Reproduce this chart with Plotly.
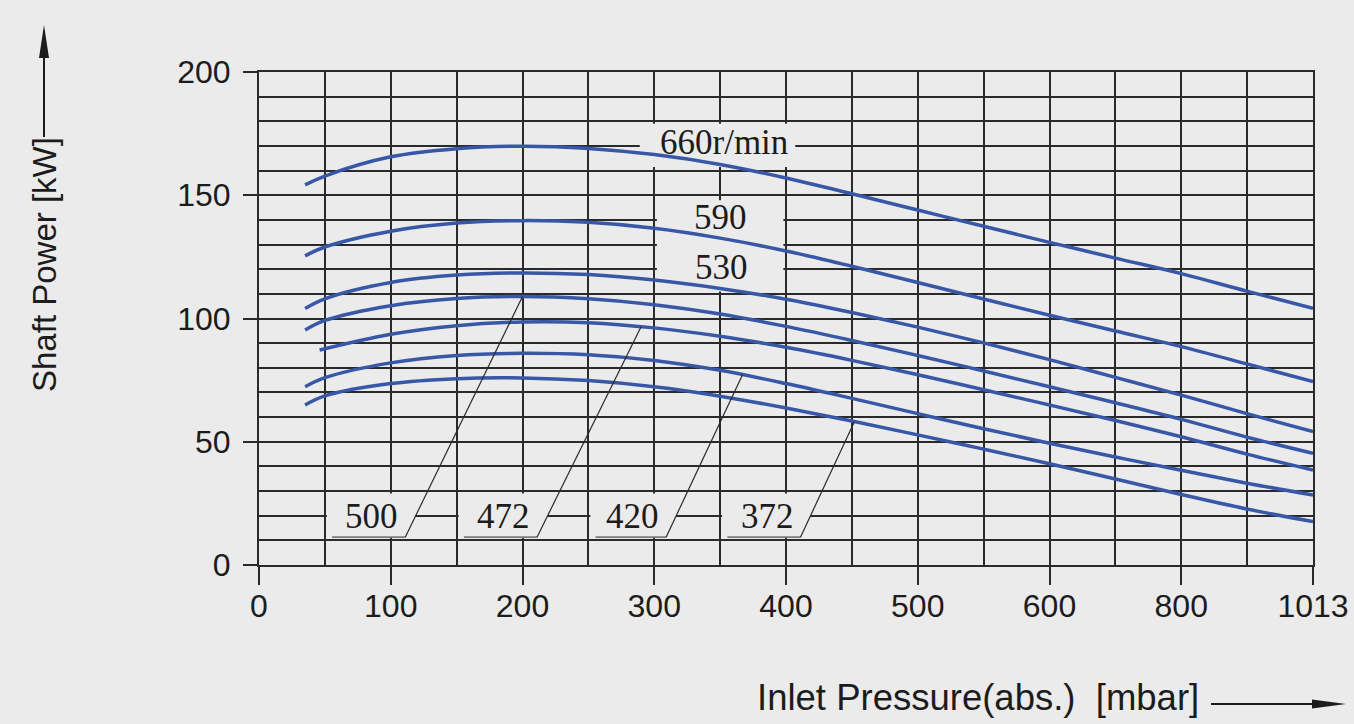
import numpy as np
import plotly.graph_objects as go

# ---- axis definitions -------------------------------------------------------
# Pressure ticks are placed at equal spacing (non-linear mbar scale)
TICK_MBAR = [0, 100, 200, 300, 400, 500, 600, 800, 1013]
TICK_TEXT = ["0", "100", "200", "300", "400", "500", "600", "800", "1013"]
POWER_TICKS = [0, 50, 100, 150, 200]

# ---- performance curves: shaft power [kW] vs inlet pressure [mbar] ----------
P_COMMON = [35, 50, 100, 150, 200, 250, 300, 350, 400, 450, 500, 550, 600, 700, 800, 906, 1013]
P_472 = [46, 100, 150, 200, 250, 300, 350, 400, 450, 500, 550, 600, 700, 800, 906, 1013]

POWER_660 = [154.2, 157.8, 165.6, 168.9, 169.9, 169.0, 166.5, 162.5, 157.0, 150.6, 144.0, 137.4, 130.9, 124.5, 118.2, 111.1, 104.1]
POWER_590 = [125.4, 129.0, 135.4, 138.7, 139.7, 139.0, 136.6, 132.6, 127.4, 121.2, 114.6, 107.9, 101.3, 94.9, 88.6, 81.6, 74.4]
POWER_530 = [104.1, 108.0, 114.6, 117.6, 118.5, 117.8, 115.6, 112.2, 107.8, 102.4, 96.5, 90.1, 83.3, 76.1, 68.9, 61.4, 54.1]
POWER_500 = [95.3, 99.2, 105.2, 108.1, 108.9, 108.0, 105.6, 101.8, 96.8, 91.1, 85.0, 78.7, 72.3, 65.8, 59.1, 51.9, 45.3]
POWER_472 = [87.2, 93.6, 97.1, 98.6, 98.3, 96.2, 92.8, 88.3, 83.0, 77.2, 71.1, 64.9, 58.6, 52.0, 45.0, 38.5]
POWER_420 = [72.3, 76.0, 82.0, 85.0, 85.9, 85.3, 83.0, 79.0, 73.6, 67.6, 61.4, 55.3, 49.4, 43.8, 38.4, 33.2, 28.4]
POWER_372 = [64.9, 68.6, 73.6, 75.6, 75.9, 74.8, 72.3, 68.5, 63.7, 58.4, 52.8, 47.0, 41.1, 34.9, 28.6, 22.7, 17.6]

CURVES = [
    ("660", P_COMMON, POWER_660),
    ("590", P_COMMON, POWER_590),
    ("530", P_COMMON, POWER_530),
    ("500", P_COMMON, POWER_500),
    ("472", P_472, POWER_472),
    ("420", P_COMMON, POWER_420),
    ("372", P_COMMON, POWER_372),
]

# speed labels with leader lines at the bottom of the chart
LEADER_SPEEDS = ["500", "472", "420", "372"]
LEADER_TIP_MBAR = [200, 290, 367, 452]     # where each leader touches its curve
LEADER_BASE_MBAR = [111, 211, 309, 411]    # foot of each leader
LABEL_BOX_LEFT_MBAR = [50, 150, 250, 350]

# ---- styling ----------------------------------------------------------------
BG = "#ebebeb"
GRID = "#2a2a2a"
BLUE = "#3857a6"
TXT = "#1c1c1c"
SANS = "Liberation Sans, Arial, sans-serif"
SERIF = "Liberation Serif, Times New Roman, serif"

W, H = 1354, 724
ML, MR, MT, MB = 259, 41, 72, 159


def to_pos(p):
    """Map pressure in mbar onto the equally spaced tick positions."""
    return np.interp(p, TICK_MBAR, np.arange(len(TICK_MBAR)))


def px_x(px):
    return (px - ML) / (W - ML - MR)


def px_y(py):
    return (H - MB - py) / (H - MT - MB)


fig = go.Figure()

for name, p, pw in CURVES:
    fig.add_trace(go.Scatter(
        x=to_pos(p), y=pw, mode="lines", name=name,
        line=dict(color=BLUE, width=3.5, shape="spline", smoothing=1.0),
        hoverinfo="skip", showlegend=False,
    ))

shapes = []
annotations = []

# label backgrounds for the upper curve labels (hide the grid behind text)
shapes.append(dict(type="rect", xref="x", yref="y", layer="between",
                   x0=to_pos(289), x1=to_pos(407), y0=161.5, y1=179.0,
                   fillcolor=BG, line=dict(width=0)))
shapes.append(dict(type="rect", xref="x", yref="y", layer="between",
                   x0=to_pos(302), x1=to_pos(398), y0=111.0, y1=148.0,
                   fillcolor=BG, line=dict(width=0)))

LABEL_FONT = dict(family=SERIF, size=35, color=TXT)
annotations += [
    dict(x=to_pos(353), y=171.6, xref="x", yref="y", text="660r/min", showarrow=False,
         font=LABEL_FONT),
    dict(x=to_pos(350), y=141.0, xref="x", yref="y", text="590", showarrow=False,
         font=LABEL_FONT),
    dict(x=to_pos(351), y=120.5, xref="x", yref="y", text="530", showarrow=False,
         font=LABEL_FONT),
]

# bottom labels with leader lines to their curves
curve_lookup = {name: (p, pw) for name, p, pw in CURVES}
Y_BASE, Y_TOP = 11.3, 29.0
for spd, tip_p, base_p, left_p in zip(LEADER_SPEEDS, LEADER_TIP_MBAR,
                                      LEADER_BASE_MBAR, LABEL_BOX_LEFT_MBAR):
    p, pw = curve_lookup[spd]
    xt, yt = float(to_pos(tip_p)), float(np.interp(tip_p, p, pw))
    xb = float(to_pos(base_p))
    xl = float(to_pos(left_p)) + 0.015
    x_at_top = xb + (Y_TOP - Y_BASE) / (yt - Y_BASE) * (xt - xb)
    shapes.append(dict(type="path", xref="x", yref="y", layer="between",
                       path=f"M {xl},{Y_BASE} L {xb},{Y_BASE} L {x_at_top},{Y_TOP} L {xl},{Y_TOP} Z",
                       fillcolor=BG, line=dict(width=0)))
    shapes.append(dict(type="line", xref="x", yref="y", layer="above",
                       x0=xl + 0.04, x1=xb, y0=Y_BASE, y1=Y_BASE,
                       line=dict(color="#7a7a7a", width=1.6)))
    shapes.append(dict(type="line", xref="x", yref="y", layer="above",
                       x0=xb, y0=Y_BASE, x1=xt, y1=yt,
                       line=dict(color="#2a2a2a", width=1.2)))
    annotations.append(dict(x=xb - 0.253, y=19.5, xref="x", yref="y", text=spd,
                            showarrow=False, font=LABEL_FONT))

# axis titles with direction arrows
annotations.append(dict(x=px_x(44), y=px_y(265), xref="paper", yref="paper",
                        text="Shaft Power [kW]", textangle=-90, showarrow=False,
                        xanchor="center", yanchor="middle",
                        font=dict(family=SANS, size=33, color=TXT)))
annotations.append(dict(x=px_x(978), y=px_y(697), xref="paper", yref="paper",
                        text="Inlet Pressure(abs.)\u00a0 [mbar]", showarrow=False,
                        xanchor="center", yanchor="middle",
                        font=dict(family=SANS, size=36.5, color=TXT)))

shapes.append(dict(type="line", xref="paper", yref="paper",
                   x0=px_x(44), x1=px_x(44), y0=px_y(137), y1=px_y(50),
                   line=dict(color=TXT, width=2)))
shapes.append(dict(type="path", xref="paper", yref="paper",
                   path=f"M {px_x(44)},{px_y(25)} L {px_x(39)},{px_y(58)} L {px_x(49)},{px_y(58)} Z",
                   fillcolor=TXT, line=dict(width=0)))
shapes.append(dict(type="line", xref="paper", yref="paper",
                   x0=px_x(1211), x1=px_x(1320), y0=px_y(704), y1=px_y(704),
                   line=dict(color=TXT, width=2)))
shapes.append(dict(type="path", xref="paper", yref="paper",
                   path=f"M {px_x(1346)},{px_y(704)} L {px_x(1312)},{px_y(699.5)} L {px_x(1312)},{px_y(708.5)} Z",
                   fillcolor=TXT, line=dict(width=0)))

TICK_FONT = dict(family=SANS, size=32, color=TXT)
fig.update_layout(
    width=W, height=H,
    margin=dict(l=ML, r=MR, t=MT, b=MB, pad=0, autoexpand=False),
    paper_bgcolor=BG, plot_bgcolor=BG,
    showlegend=False,
    shapes=shapes, annotations=annotations,
    xaxis=dict(
        range=[0, len(TICK_MBAR) - 1], tickmode="array",
        tickvals=list(range(len(TICK_MBAR))), ticktext=TICK_TEXT,
        ticks="outside", ticklen=18, tickwidth=2, tickcolor=GRID,
        ticklabelstandoff=-6, ticklabeloverflow="allow", automargin=False,
        showgrid=True, gridcolor=GRID, gridwidth=1.8,
        minor=dict(dtick=0.5, tick0=0, showgrid=True, gridcolor=GRID, gridwidth=1.8, ticks=""),
        showline=True, linecolor=GRID, linewidth=2, mirror=True, zeroline=False,
        tickfont=TICK_FONT,
        fixedrange=True,
    ),
    yaxis=dict(
        range=[0, 200], tickmode="array", tickvals=POWER_TICKS,
        ticktext=[str(v) for v in POWER_TICKS],
        ticks="outside", ticklen=14, tickwidth=2, tickcolor=GRID,
        ticklabelstandoff=6, automargin=False,
        showgrid=True, gridcolor=GRID, gridwidth=1.8,
        minor=dict(dtick=10, tick0=0, showgrid=True, gridcolor=GRID, gridwidth=1.8, ticks=""),
        showline=True, linecolor=GRID, linewidth=2, mirror=True, zeroline=False,
        tickfont=TICK_FONT,
        fixedrange=True,
    ),
)

fig.write_html("out.html", config={"displayModeBar": False})
